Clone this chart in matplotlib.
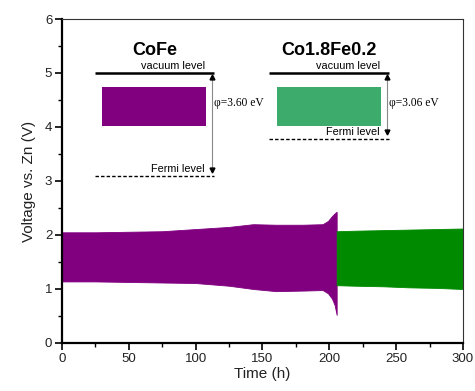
import matplotlib
matplotlib.use("Agg")
import matplotlib.pyplot as plt
from matplotlib.ticker import MultipleLocator

plt.rcParams['font.family'] = ['Liberation Sans', 'DejaVu Sans']

# Voltage envelope of the CoFe cell (time in h, upper / lower voltage in V)
cofe_time = [0, 25, 50, 75, 100, 125, 143, 160, 180, 195, 199, 202, 204, 205.5]
cofe_upper = [2.05, 2.05, 2.06, 2.07, 2.11, 2.15, 2.20, 2.19, 2.19, 2.20, 2.26, 2.35, 2.40, 2.43]
cofe_lower = [1.14, 1.14, 1.13, 1.12, 1.11, 1.06, 1.00, 0.96, 0.97, 0.98, 0.92, 0.82, 0.70, 0.52]

# Voltage envelope of the Co1.8Fe0.2 cell
cofe2_time = [205.5, 220, 240, 260, 280, 300]
cofe2_upper = [2.07, 2.08, 2.09, 2.10, 2.11, 2.12]
cofe2_lower = [1.07, 1.06, 1.05, 1.03, 1.02, 1.00]

purple = '#800080'
green_trace = '#008a00'
green_box = '#3cab6c'

fig = plt.figure(figsize=(4.75, 3.91), dpi=100)
ax = fig.add_axes([0.1305, 0.1228, 0.8442, 0.8286])

ax.fill_between(cofe_time, cofe_lower, cofe_upper, color=purple, lw=0.6, edgecolor=purple)
ax.fill_between(cofe2_time, cofe2_lower, cofe2_upper, color=green_trace, lw=0.6, edgecolor=green_trace)

ax.set_xlim(0, 300)
ax.set_ylim(0, 6)
ax.xaxis.set_major_locator(MultipleLocator(50))
ax.xaxis.set_minor_locator(MultipleLocator(25))
ax.yaxis.set_major_locator(MultipleLocator(1))
ax.yaxis.set_minor_locator(MultipleLocator(0.5))
ax.tick_params(which='major', direction='out', length=5, width=1.2, labelsize=9.5,
               labelcolor='#222222', pad=2)
ax.tick_params(which='minor', direction='out', length=3, width=1.0)
for s in ['left', 'bottom']:
    ax.spines[s].set_linewidth(1.6)
for s in ['top', 'right']:
    ax.spines[s].set_linewidth(0.8)
    ax.spines[s].set_color('#333333')

ax.set_xlabel('Time (h)', fontsize=11, color='#222222', labelpad=2)
ax.set_ylabel('Voltage vs. Zn (V)', fontsize=11, color='#222222', labelpad=6)

# Energy-level schematics
def schematic(x0, x1, title, box_x, box_color, fermi_y, arrow_x, phi_text):
    ax.text((x0 + x1) / 2, 5.42, title, ha='center', va='center',
            fontsize=13, fontweight='bold')
    ax.plot([x0, x1], [5.0, 5.0], color='black', lw=1.8, solid_capstyle='butt')
    ax.text(x1 - 7, 5.04, 'vacuum level', ha='right', va='bottom', fontsize=7.8)
    ax.fill_between(box_x, [4.02, 4.02], [4.74, 4.74], color=box_color, lw=0)
    ax.plot([x0, x1], [fermi_y, fermi_y], color='black', lw=1.0, ls=(0, (2.5, 1.5)))
    ax.text(x1 - 7, fermi_y + 0.04, 'Fermi level', ha='right', va='bottom', fontsize=7.8)
    ax.plot([arrow_x, arrow_x], [4.93, fermi_y + 0.1], color='#888888', lw=0.8)
    ax.plot([arrow_x], [4.93], marker='^', color='black', ms=3.5)
    ax.plot([arrow_x], [fermi_y + 0.12], marker='v', color='black', ms=3.5)
    ax.text(arrow_x + 1.5, 4.44, phi_text, ha='left', va='center', fontsize=8.3,
            family=['Liberation Serif', 'DejaVu Serif'])

schematic(24.5, 114, 'CoFe', [30, 108], purple, 3.09, 112, 'φ=3.60 eV')
schematic(155, 245, 'Co1.8Fe0.2', [161, 239], green_box, 3.78, 243, 'φ=3.06 eV')

fig.savefig('out.png', dpi=100)
